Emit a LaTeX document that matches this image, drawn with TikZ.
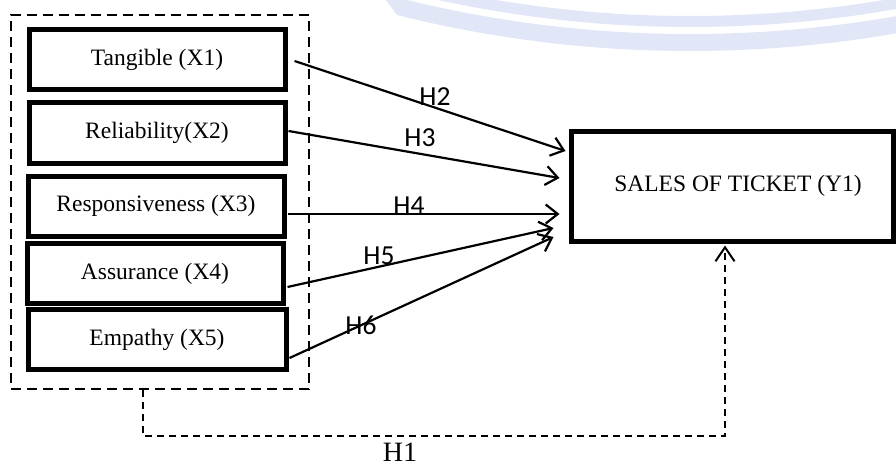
\documentclass[tikz,border=0pt]{standalone}
\usepackage{fontspec}
\setmainfont{Liberation Serif}
\newfontfamily\calibri{Carlito}
\usetikzlibrary{arrows.meta}
\definecolor{wmark}{RGB}{226,231,247}
\tikzset{
  varbox/.style={draw, line width=5pt, minimum width=256pt, minimum height=60pt, inner sep=0pt,
    font=\fontsize{23.5}{27}\selectfont},
  ybox/.style={draw, line width=5pt, minimum width=322pt, minimum height=110pt, inner sep=0pt,
    font=\fontsize{23.5}{27}\selectfont},
  grpbox/.style={draw, line width=2.2pt, dash pattern=on 10pt off 6pt, minimum width=298pt, minimum height=374pt, inner sep=0pt},
  hyp/.style={line width=2.2pt, -{Straight Barb[length=12pt, width=19pt, line width=2.2pt]}},
  h1line/.style={line width=1.6pt, dash pattern=on 7pt off 5pt, -{Straight Barb[length=14pt, width=19pt, line width=2pt]}},
  hlabel/.style={font=\calibri\fontsize{27.5}{30}\selectfont, inner sep=0pt},
  h1label/.style={font=\fontsize{28}{30}\selectfont, inner sep=0pt}
}
\begin{document}
\begin{tikzpicture}[x=1pt, y=-1pt]
\useasboundingbox (0,0) rectangle (896,468);
% watermark
\begin{scope}
  \clip (386,0) -- (397,15) -- (397,80) -- (896,80) -- (896,0) -- cycle;
  \fill[wmark, even odd rule] (690,-1150) circle[radius=1201] (690,-1150) circle[radius=1184];
  \fill[wmark, even odd rule] (690,-1150) circle[radius=1177] (690,-1150) circle[radius=1166];
\end{scope}
% group box
\node[grpbox] (grp) at (160,202) {};
% variable boxes
\node[varbox] (t1) at (157,60) {Tangible (X1)};
\node[varbox] (t2) at (157,133) {Reliability(X2)};
\node[varbox] (t3) at (156,206) {Responsiveness (X3)};
\node[varbox] (t4) at (155,273.5) {Assurance (X4)};
\node[varbox, minimum width=258pt] (t5) at (157,339.5) {Empathy (X5)};
% dependent box
\node[ybox] (y) at (732,186) {\hspace{12pt}SALES OF TICKET (Y1)};
% hypothesis arrows
\draw[hyp] ([xshift=7pt,yshift=-1pt]t1.east) -- ([xshift=-3pt,yshift=35pt]y.west);
\draw[hyp] ([xshift=1pt,yshift=2pt]t2.east) -- ([xshift=-9pt,yshift=8pt]y.west);
\draw[hyp] ([xshift=1pt,yshift=-8pt]t3.east) -- ([xshift=-9pt,yshift=-28pt]y.west);
\draw[hyp] ([xshift=2pt,yshift=-13.5pt]t4.east) -- ([xshift=-15pt,yshift=-42pt]y.west);
\draw[hyp] ([xshift=1pt,yshift=-18.5pt]t5.east) -- ([xshift=-15pt,yshift=-51pt]y.west);
% labels
\node[hlabel] (h2) at (435,97) {H2};
\node[hlabel] (h3) at (420,138) {H3};
\node[hlabel] (h4) at (409,206) {H4};
\node[hlabel] (h5) at (379,256) {H5};
\node[hlabel] (h6) at (361,325) {H6};
% H1 path
\draw[h1line] ([xshift=-17pt]grp.south) -- ++(0,46) -| ([xshift=-7pt,yshift=-2pt]y.south);
\node[h1label] (h1) at (400,452) {H1};
\end{tikzpicture}
\end{document}
